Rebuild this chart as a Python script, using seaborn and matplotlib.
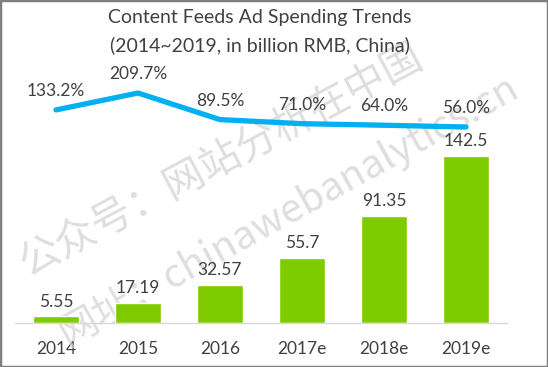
import matplotlib
matplotlib.use("Agg")
import matplotlib.pyplot as plt
import seaborn as sns
import numpy as np
import pandas as pd
from matplotlib.patches import Rectangle

years = ["2014", "2015", "2016", "2017e", "2018e", "2019e"]
spending = [5.55, 17.19, 32.57, 55.7, 91.35, 142.5]
spending_labels = ["5.55", "17.19", "32.57", "55.7", "91.35", "142.5"]
growth = [133.2, 209.7, 89.5, 71.0, 64.0, 56.0]
title_lines = ["Content Feeds Ad Spending Trends", "(2014~2019, in billion RMB, China)"]
watermark1 = "公众号：网站分析在中国"
watermark2 = "网址：chinawebanalytics.cn"

sns.set_theme(style="white")
plt.rcParams['font.family'] = ['Lato', 'DejaVu Sans']

TXT = "#404040"
BAR = "#7ECC00"
LINE = "#00B0F0"

W, H = 548, 367
fig = plt.figure(figsize=(W / 100, H / 100), dpi=100)
ax = fig.add_axes([15 / W, 1 - 323 / H, (507 - 15) / W, 263 / H])

df = pd.DataFrame({"year": years, "spending": spending})
sns.barplot(data=df, x="year", y="spending", color=BAR, width=0.57,
            saturation=1, ax=ax, zorder=2)
ax.set_xlim(-0.5, 5.5)
ax.set_ylim(0, 224.4)
ax.set_xlabel("")
ax.set_ylabel("")
ax.set_yticks([])
for s in ["top", "right", "left"]:
    ax.spines[s].set_visible(False)
ax.spines["bottom"].set_color("#D9D9D9")
ax.spines["bottom"].set_linewidth(1.0)
ax.set_xticks(np.arange(-0.5, 6, 1), minor=True)
ax.tick_params(axis="x", which="minor", length=6, color="#D9D9D9", width=1.0, direction="out")
ax.tick_params(axis="x", which="major", length=0, pad=13, labelsize=12.5, labelcolor=TXT)
ax.patch.set_alpha(0)

for i, (v, lab) in enumerate(zip(spending, spending_labels)):
    ax.annotate(lab, (i, v), xytext=(0, 5), textcoords="offset points",
                ha="center", va="bottom", fontsize=12.5, color=TXT)

ax2 = ax.twinx()
sns.lineplot(x=np.arange(len(growth)), y=growth, ax=ax2, color=LINE,
             linewidth=3.8, solid_capstyle="round", solid_joinstyle="round")
ax2.set_ylim(-830, 358.9)
ax2.set_xlim(-0.5, 5.5)
ax2.set_yticks([])
ax2.set_ylabel("")
for s in ["top", "right", "left", "bottom"]:
    ax2.spines[s].set_visible(False)
for i, g in enumerate(growth):
    ax2.annotate(f"{g:.1f}%", (i, g), xytext=(0, 13.5), textcoords="offset points",
                 ha="center", va="center", fontsize=12.5, color=TXT)

fig.text(260 / W, 1 - 17 / H, title_lines[0], ha="center", va="center",
         fontsize=14, color=TXT)
fig.text(260 / W, 1 - 45 / H, title_lines[1], ha="center", va="center",
         fontsize=14, color=TXT)

wm_font = ['Noto Sans CJK SC', 'DejaVu Sans']
ax.text(222 / W, 1 - 161 / H, watermark1, transform=fig.transFigure, rotation=28,
        ha="center", va="center", fontsize=29.5, color="#D0D0D0", alpha=0.7,
        family=wm_font, zorder=1, rotation_mode="anchor")
ax.text(288 / W, 1 - 210 / H, watermark2, transform=fig.transFigure, rotation=29,
        ha="center", va="center", fontsize=28.5, color="#D0D0D0", alpha=0.7,
        family=wm_font, zorder=1, rotation_mode="anchor")

fig.patches.append(Rectangle((0, 0), 1, 1, transform=fig.transFigure, fill=False,
                             edgecolor="#7F7F7F", linewidth=2.5))

fig.savefig("out.png", dpi=100)
